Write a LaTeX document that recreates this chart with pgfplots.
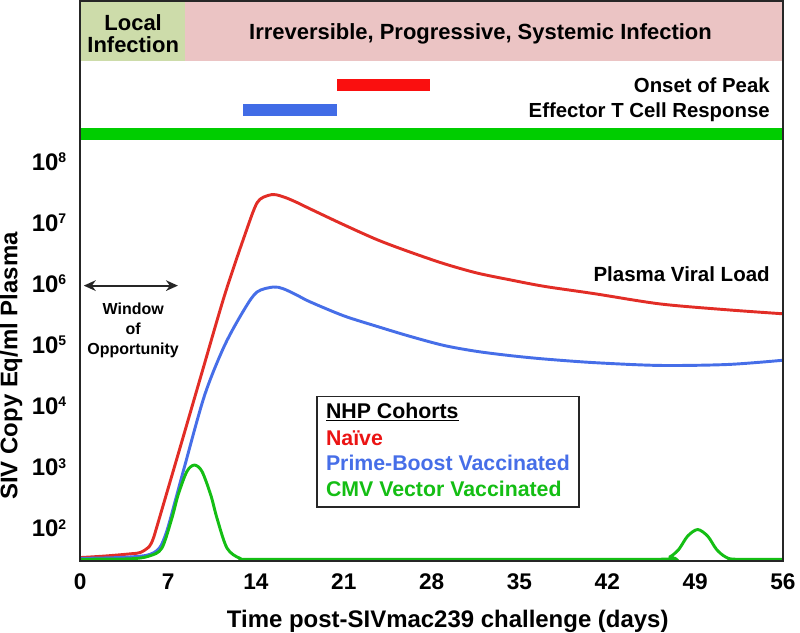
\documentclass[border=0pt]{standalone}
\usepackage{fontspec}
\setmainfont{Liberation Sans}
\usepackage{pgfplots}
\pgfplotsset{compat=1.18}
\usetikzlibrary{arrows.meta}

\definecolor{cRed}{RGB}{226,45,38}
\definecolor{cBlue}{RGB}{70,110,232}
\definecolor{cGreen}{RGB}{20,190,20}
\definecolor{barRed}{RGB}{250,15,15}
\definecolor{barBlue}{RGB}{65,108,230}
\definecolor{barGreen}{RGB}{0,205,0}
\definecolor{bandGreen}{RGB}{205,220,170}
\definecolor{bandPink}{RGB}{235,196,196}
\definecolor{txtRed}{RGB}{235,20,20}

\newcommand\ex[1]{10\raisebox{5.8pt}{\fontsize{10.5}{11}\selectfont #1}}

\begin{document}
\begin{tikzpicture}
\begin{axis}[
  scale only axis,
  width=528pt, height=420.75pt,
  xmin=0, xmax=56,
  ymode=log, ymin=28.84, ymax=4.266e10,
  axis on top,
  axis line style={line width=1.75pt, black!85},
  xtick={0,7,14,21,28,35,42,49,56},
  xticklabels={0,7,14,21,28,35,42,49,56},
  ytick={1e2,1e3,1e4,1e5,1e6,1e7,1e8},
  yticklabels={\ex{2},\ex{3},\ex{4},\ex{5},\ex{6},\ex{7},\ex{8}},
  major tick length=0, minor tick length=0,
  xticklabel style={font=\fontsize{17}{19}\selectfont\bfseries, yshift=-6pt},
  yticklabel style={font=\fontsize{18}{20}\selectfont\bfseries, xshift=-7pt},
  xlabel={Time post-SIVmac239 challenge (days)},
  ylabel={SIV Copy Eq/ml Plasma},
  xlabel style={at={(axis description cs:0.523,-0.1176)}, anchor=base, inner sep=0pt,
    font=\fontsize{18}{20}\selectfont\bfseries},
  ylabel style={at={(axis description cs:-0.0895,0.3485)}, anchor=base, inner sep=0pt,
    font=\fontsize{18}{20}\selectfont\bfseries},
]
% phase bands
\fill[bandGreen] (rel axis cs:0,0.893) rectangle (rel axis cs:0.149,1);
\fill[bandPink] (rel axis cs:0.149,0.893) rectangle (rel axis cs:1,1);

% T cell response bars
\addplot[barRed, line width=9pt] coordinates {(20.5,1.8e9) (27.9,1.8e9)};
\addplot[barBlue, line width=9pt] coordinates {(13.0,7.0e8) (20.5,7.0e8)};
\addplot[barGreen, line width=9pt] coordinates {(0,2.84e8) (56,2.84e8)};

% naive
\addplot[cRed, line width=2.2pt, smooth] coordinates {
(0,33) (2,35) (4,38) (4.8,40) (5.5,50) (5.8,66) (6.0,89) (6.6,234) (8.0,2240)
(9.7,35500) (11.5,6.5e5) (13.1,6.2e6) (14.1,2.14e7) (15.0,2.82e7) (15.6,2.88e7)
(16.4,2.57e7) (17.3,2.14e7) (18.3,1.70e7) (21,9.3e6) (23.7,5.25e6) (26.3,3.31e6)
(29,2.14e6) (31.6,1.51e6) (34.3,1.16e6) (37,9.1e5) (41,6.9e5) (46.2,4.7e5)
(51.6,3.76e5) (56,3.24e5)
};
% prime-boost
\addplot[cBlue, line width=2.2pt, smooth] coordinates {
(0,32) (3,33) (5.3,36) (6.3,47) (6.9,90) (7.6,295) (8.3,1000) (9.9,14800)
(11.5,9.8e4) (13.1,3.9e5) (14.1,7.4e5) (15.4,8.9e5) (16.2,8.3e5) (17.3,6.5e5)
(18.3,5.1e5) (21,3.0e5) (23.7,2.0e5) (26.3,1.38e5) (29,9.8e4) (31.6,7.85e4)
(34.3,6.68e4) (37,5.89e4) (41,5.13e4) (46.2,4.62e4) (51.6,4.79e4) (56,5.62e4)
};
% CMV vector
\addplot[cGreen, line width=2.2pt, smooth] coordinates {
(0,31) (4,31.5) (5.5,35) (6.5,47) (7.3,145) (7.8,350) (8.5,850) (9.1,1080)
(9.7,850) (10.4,350) (10.9,145) (11.7,47) (12.75,32) (14,31) (30,31)
(46.2,31) (47.0,34) (47.7,45) (48.4,74) (49.2,95) (50.0,74) (50.7,45) (51.4,34) (52.2,31) (56,31)
};

% annotations
\node[anchor=base, inner sep=0pt, font=\fontsize{16.5}{18}\selectfont\bfseries] at (rel axis cs:0.0753,0.948) {Local};
\node[anchor=base, inner sep=0pt, font=\fontsize{16.5}{18}\selectfont\bfseries] at (rel axis cs:0.0753,0.909) {Infection};
\node[anchor=base, inner sep=0pt, font=\fontsize{16.5}{18}\selectfont\bfseries] at (rel axis cs:0.5696,0.932) {Irreversible, Progressive, Systemic Infection};
\node[anchor=base east, inner sep=0pt, font=\fontsize{15.3}{17}\selectfont\bfseries] at (rel axis cs:0.9815,0.836) {Onset of Peak};
\node[anchor=base east, inner sep=0pt, font=\fontsize{15.3}{17}\selectfont\bfseries] at (rel axis cs:0.9815,0.7914) {Effector T Cell Response};
\node[anchor=base east, inner sep=0pt, font=\fontsize{15.4}{17}\selectfont\bfseries] at (rel axis cs:0.9815,0.4991) {Plasma Viral Load};

\draw[{Stealth[length=9pt,width=8pt]}-{Stealth[length=9pt,width=8pt]}, line width=1.6pt, black!85]
  (rel axis cs:0.005,0.492) -- (rel axis cs:0.139,0.492);
\node[anchor=base, inner sep=0pt, font=\fontsize{12}{14}\selectfont\bfseries] at (rel axis cs:0.0753,0.4403) {Window};
\node[anchor=base, inner sep=0pt, font=\fontsize{12}{14}\selectfont\bfseries] at (rel axis cs:0.0753,0.4046) {of};
\node[anchor=base, inner sep=0pt, font=\fontsize{12}{14}\selectfont\bfseries] at (rel axis cs:0.0753,0.369) {Opportunity};

% cohort key
\draw[line width=1.3pt, black!85, fill=white] (rel axis cs:0.3366,0.0963) rectangle (rel axis cs:0.7102,0.2941);
\node[anchor=base west, inner sep=0pt, font=\fontsize{16}{18}\selectfont\bfseries] at (rel axis cs:0.3494,0.2549) {\underline{NHP Cohorts}};
\node[anchor=base west, inner sep=0pt, text=txtRed, font=\fontsize{16}{18}\selectfont\bfseries] at (rel axis cs:0.3494,0.2068) {Naïve};
\node[anchor=base west, inner sep=0pt, text=cBlue, font=\fontsize{16}{18}\selectfont\bfseries] at (rel axis cs:0.3494,0.1622) {Prime-Boost Vaccinated};
\node[anchor=base west, inner sep=0pt, text=cGreen, font=\fontsize{16}{18}\selectfont\bfseries] at (rel axis cs:0.3494,0.1159) {CMV Vector Vaccinated};
\end{axis}
\end{tikzpicture}
\end{document}
